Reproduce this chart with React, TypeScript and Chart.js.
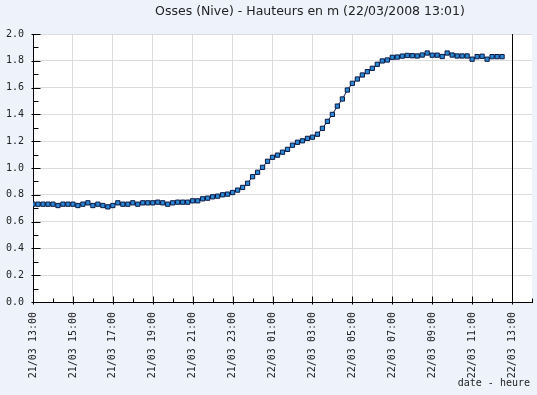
import React, { useEffect, useRef } from "react";
import { Chart, registerables } from "chart.js";

Chart.register(...registerables);

const titleText = "Osses (Nive) - Hauteurs en m (22/03/2008 13:01)";
const xAxisTitle = "date - heure";

// hours elapsed since 21/03 13:00, one reading every 15 minutes
const stepHours = 0.25;

const heights: number[] = [
  0.73, 0.73, 0.73, 0.73, 0.73, 0.72, 0.73, 0.73, 0.73, 0.72,
  0.73, 0.74, 0.72, 0.73, 0.72, 0.71, 0.72, 0.74, 0.73, 0.73,
  0.74, 0.73, 0.74, 0.74, 0.74, 0.745, 0.74, 0.73, 0.74, 0.745,
  0.745, 0.745, 0.755, 0.755, 0.77, 0.775, 0.785, 0.79, 0.8, 0.805,
  0.817, 0.835, 0.855, 0.886, 0.935, 0.968, 1.005, 1.05, 1.08, 1.096,
  1.118, 1.139, 1.17, 1.192, 1.203, 1.221, 1.23, 1.252, 1.296, 1.348,
  1.4, 1.462, 1.515, 1.582, 1.632, 1.664, 1.694, 1.719, 1.744, 1.774,
  1.799, 1.806, 1.826, 1.828, 1.835, 1.84, 1.838, 1.836, 1.843, 1.858,
  1.842, 1.842, 1.832, 1.858, 1.843, 1.836, 1.836, 1.836, 1.812, 1.831,
  1.834, 1.812, 1.831, 1.831, 1.831,
];

const xTickLabels: string[] = [
  "21/03 13:00", "21/03 15:00", "21/03 17:00", "21/03 19:00",
  "21/03 21:00", "21/03 23:00", "22/03 01:00", "22/03 03:00",
  "22/03 05:00", "22/03 07:00", "22/03 09:00", "22/03 11:00",
  "22/03 13:00",
];

const xMin = 0;
const xMax = 25;
const nowHour = 24;
const yMin = 0;
const yMax = 2;

const MONO = "'DejaVu Sans Mono', monospace";

const decorPlugin = {
  id: "decor",
  beforeDraw(chart: any) {
    const { ctx, chartArea } = chart;
    ctx.save();
    ctx.fillStyle = "#ffffff";
    ctx.fillRect(chartArea.left, chartArea.top, chartArea.right - chartArea.left, chartArea.bottom - chartArea.top);
    ctx.restore();
  },
  beforeDatasetsDraw(chart: any) {
    const { ctx, chartArea, scales } = chart;
    const xs = scales.x;
    const ys = scales.y;
    ctx.save();
    ctx.strokeStyle = "#000000";
    ctx.lineWidth = 1;
    // now line
    const nx = Math.round(xs.getPixelForValue(nowHour)) + 0.5;
    ctx.beginPath();
    ctx.moveTo(nx, chartArea.top);
    ctx.lineTo(nx, chartArea.bottom);
    ctx.stroke();
    // x ticks every hour
    const by = Math.round(chartArea.bottom) + 0.5;
    for (let h = xMin; h <= xMax; h += 1) {
      const px = Math.round(xs.getPixelForValue(h)) + 0.5;
      ctx.beginPath();
      if (h % 2 === 0) {
        ctx.moveTo(px, by + 2);
        ctx.lineTo(px, by - 6);
      } else {
        ctx.moveTo(px, by);
        ctx.lineTo(px, by - 4);
      }
      ctx.stroke();
    }
    // y ticks every 0.1
    const lx = Math.round(chartArea.left) + 0.5;
    for (let k = 0; k <= 20; k++) {
      const v = k / 10;
      const py = Math.round(ys.getPixelForValue(v)) + 0.5;
      ctx.beginPath();
      if (k % 2 === 0) {
        ctx.moveTo(lx - 2, py);
        ctx.lineTo(lx + 7, py);
      } else {
        ctx.moveTo(lx, py);
        ctx.lineTo(lx + 5, py);
      }
      ctx.stroke();
    }
    ctx.restore();
  },
  afterDraw(chart: any) {
    const { ctx } = chart;
    ctx.save();
    ctx.fillStyle = "#222222";
    ctx.font = "12.5px 'DejaVu Sans', sans-serif";
    ctx.textAlign = "center";
    ctx.textBaseline = "middle";
    ctx.fillText(titleText, 310, 12);
    ctx.font = "10px " + MONO;
    ctx.textAlign = "right";
    ctx.textBaseline = "middle";
    ctx.fillText(xAxisTitle, 530, 383);
    ctx.restore();
  },
};

export default function App() {
  const canvasRef = useRef<HTMLCanvasElement | null>(null);

  useEffect(() => {
    const canvas = canvasRef.current;
    if (!canvas) return;
    const points = heights.map((v, i) => ({ x: i * stepHours, y: v }));
    const chart = new Chart(canvas, {
      type: "line",
      data: {
        datasets: [
          {
            data: points,
            borderColor: "#0b1a5a",
            borderWidth: 1,
            backgroundColor: "#2a8ad6",
            pointStyle: "rect",
            pointRadius: 3,
            pointBorderColor: "#0a1640",
            pointBorderWidth: 1,
            pointBackgroundColor: "#2a8ad6",
            tension: 0,
            fill: false,
          },
        ],
      },
      options: {
        animation: false,
        responsive: false,
        events: [],
        layout: { padding: { top: 34, right: 5, left: 0, bottom: 0 } },
        plugins: {
          legend: { display: false },
          title: { display: false },
          tooltip: { enabled: false },
        },
        scales: {
          x: {
            type: "linear",
            min: xMin,
            max: xMax,
            afterBuildTicks(scale: any) {
              scale.ticks = scale.ticks.filter((t: any) => t.value % 2 === 0 && t.value <= 24);
            },
            afterFit(scale: any) {
              scale.height = 93;
            },
            ticks: {
              stepSize: 2,
              autoSkip: false,
              maxRotation: 90,
              minRotation: 90,
              padding: 10,
              color: "#222222",
              font: { family: MONO, size: 10 },
              callback: (v: any) => xTickLabels[Math.round(Number(v) / 2)] ?? "",
            },
            grid: {
              color: "#dcdcdc",
              lineWidth: 1,
              drawTicks: false,
            },
            border: { display: true, color: "#000000", width: 1 },
          },
          y: {
            type: "linear",
            min: yMin,
            max: yMax,
            afterFit(scale: any) {
              scale.width = 33;
            },
            ticks: {
              stepSize: 0.2,
              padding: 9,
              color: "#222222",
              font: { family: MONO, size: 10 },
              callback: (v: any) => Number(v).toFixed(1),
            },
            grid: {
              color: "#dcdcdc",
              lineWidth: 1,
              drawTicks: false,
            },
            border: { display: true, color: "#000000", width: 1 },
          },
        },
      },
      plugins: [decorPlugin],
    });
    return () => chart.destroy();
  }, []);

  return (
    <div style={{ position: "fixed", left: 0, top: 0, width: 537, height: 395, background: "#eef2fb" }}>
      <canvas ref={canvasRef} width={537} height={395} style={{ display: "block" }} />
    </div>
  );
}
